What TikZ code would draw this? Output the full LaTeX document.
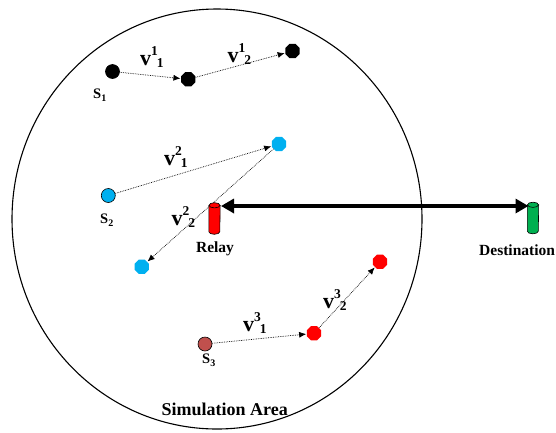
\documentclass[tikz,border=0pt]{standalone}
\usepackage{fontspec}
\setmainfont{Liberation Serif}
\usetikzlibrary{shapes.geometric,arrows.meta}
\definecolor{cblue}{RGB}{0,176,240}
\definecolor{cred}{RGB}{255,0,0}
\definecolor{cgreen}{RGB}{0,176,80}
\definecolor{cbrown}{RGB}{192,80,77}
\newcommand\vlab[2]{\fontsize{22}{22}\selectfont v\raisebox{10pt}{\fontsize{13.5}{13.5}\selectfont #1}\kern-1pt\raisebox{-2pt}{\fontsize{13.5}{13.5}\selectfont #2}}
\newcommand\slab[1]{\fontsize{14.5}{14.5}\selectfont S\raisebox{-3pt}{\fontsize{10}{10}\selectfont #1}}
\newcommand\towerdraw[2]{%
  \draw[fill=#2,line width=0.6pt] (#1.north west) -- (#1.south west)
    arc[start angle=180,end angle=0,x radius=5.5,y radius=2.6] -- (#1.north east) -- cycle;
  \draw[fill=#2,line width=0.6pt] (#1.north) ellipse [x radius=5.5, y radius=2.6];}
\begin{document}
\begin{tikzpicture}[x=1pt,y=-1pt,font=\bfseries,
  src/.style={circle,draw=black,line width=0.6pt,inner sep=0pt,minimum size=14pt},
  hop/.style={regular polygon,regular polygon sides=8,draw=none,inner sep=0pt,minimum size=15.5pt},
  move/.style={densely dotted,line width=0.7pt,-{Latex[length=7pt,width=6pt]},shorten >=0.5pt},
  lab/.style={anchor=base west,inner sep=0pt},
  tower/.style={rectangle,draw=none,minimum width=11pt,minimum height=26pt,inner sep=0pt}]
\useasboundingbox (0,0) rectangle (556,432);
\fill[white] (0,0) rectangle (556,432);
% simulation area
\draw[line width=1.1pt] (217,219) ellipse [x radius=205, y radius=210];
\node[lab] (area) at (161.5,415) {\fontsize{18}{18}\selectfont Simulation Area};
% source 1
\node[src,fill=black] (s1) at (112.5,71.5) {};
\node[hop,fill=black] (b2) at (188.3,79.3) {};
\node[hop,fill=black] (b3) at (292.5,51) {};
\draw[move] (s1) -- (b2);
\draw[move] (b2) -- (b3);
\node[lab] (l11) at (140,65) {\vlab{1}{1}};
\node[lab] (l12) at (227.5,62.5) {\vlab{1}{2}};
\node[lab] (ls1) at (93,98) {\slab{1}};
% source 2
\node[src,fill=cblue] (s2) at (108.3,195.5) {};
\node[hop,fill=cblue] (c2) at (279,144) {};
\node[hop,fill=cblue] (c3) at (141.7,266.7) {};
\draw[move] (s2) -- (c2);
\draw[move] (c2) -- (c3);
\node[lab] (l21) at (164,165) {\vlab{2}{1}};
\node[lab] (l22) at (171.5,225) {\vlab{2}{2}};
\node[lab] (ls2) at (100,223) {\slab{2}};
% source 3
\node[src,fill=cbrown] (s3) at (205,344) {};
\node[hop,fill=cred] (r2) at (314,333.3) {};
\node[hop,fill=cred] (r3) at (380,261.7) {};
\draw[move] (s3) -- (r2);
\draw[move] (r2) -- (r3);
\node[lab] (l31) at (243,331.5) {\vlab{3}{1}};
\node[lab] (l32) at (323,308) {\vlab{3}{2}};
\node[lab] (ls3) at (202,363) {\slab{3}};
% relay and destination
\node[tower] (relay) at (214.5,218.5) {};
\towerdraw{relay}{cred}
\node[tower] (dest) at (533,218) {};
\towerdraw{dest}{cgreen}
\node[anchor=base,inner sep=0pt] (lrelay) at (215,252) {\fontsize{15.5}{15.5}\selectfont Relay};
\node[lab] (ldest) at (479,255) {\fontsize{15.5}{15.5}\selectfont Destination};
\coordinate (ra) at (221,206);
\coordinate (da) at (528.5,206);
\draw[line width=4.5pt,{Triangle[length=13pt,width=14pt]}-{Triangle[length=13pt,width=14pt]}] (ra) -- (da);
\end{tikzpicture}
\end{document}
